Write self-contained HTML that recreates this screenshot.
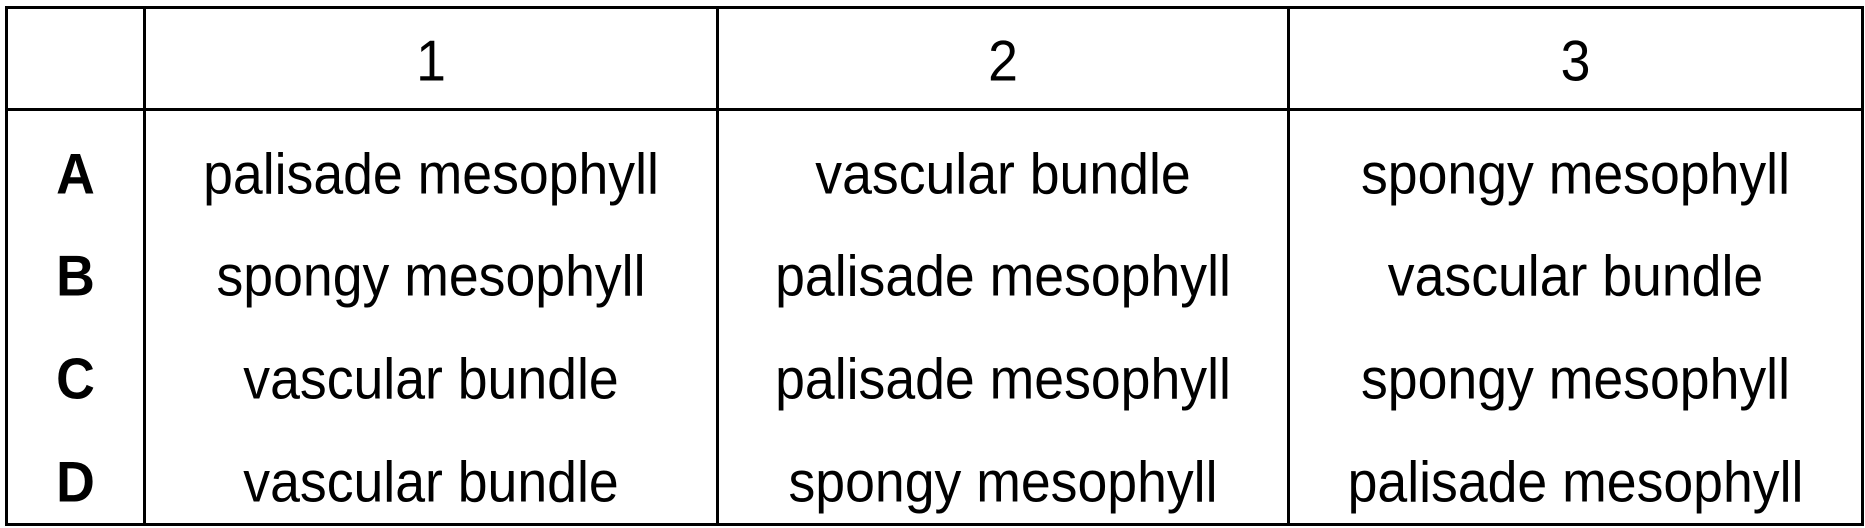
<!DOCTYPE html>
<html><head><meta charset="utf-8"><style>
html,body{margin:0;padding:0;background:#fff;}
body{width:1865px;height:528px;position:relative;overflow:hidden;font-family:"Liberation Sans",Arial,sans-serif;color:#000;}
.l{position:absolute;background:#000;}
.t{position:absolute;font-size:53.6px;line-height:60px;height:60px;text-align:center;white-space:nowrap;transform:scaleY(1.08);}
.b{font-weight:bold;}
</style></head><body>
<div class="l" style="left:5px;top:6px;width:1859px;height:3px"></div>
<div class="l" style="left:5px;top:523px;width:1859px;height:3px"></div>
<div class="l" style="left:5px;top:108px;width:1859px;height:3px"></div>
<div class="l" style="left:5px;top:6px;width:3px;height:520px"></div>
<div class="l" style="left:1861px;top:6px;width:3px;height:520px"></div>
<div class="l" style="left:143px;top:6px;width:3px;height:520px"></div>
<div class="l" style="left:716px;top:6px;width:3px;height:520px"></div>
<div class="l" style="left:1287px;top:6px;width:3px;height:520px"></div>

<div class="t" style="left:146px;width:570px;top:31px">1</div>
<div class="t" style="left:719px;width:568px;top:31px">2</div>
<div class="t" style="left:1290px;width:571px;top:31px">3</div>

<div class="t b" style="left:8px;width:135px;top:144px">A</div>
<div class="t b" style="left:8px;width:135px;top:246px">B</div>
<div class="t b" style="left:8px;width:135px;top:349px">C</div>
<div class="t b" style="left:8px;width:135px;top:452px">D</div>

<div class="t" style="left:146px;width:570px;top:144px">palisade mesophyll</div>
<div class="t" style="left:719px;width:568px;top:144px">vascular bundle</div>
<div class="t" style="left:1290px;width:571px;top:144px">spongy mesophyll</div>

<div class="t" style="left:146px;width:570px;top:246px">spongy mesophyll</div>
<div class="t" style="left:719px;width:568px;top:246px">palisade mesophyll</div>
<div class="t" style="left:1290px;width:571px;top:246px">vascular bundle</div>

<div class="t" style="left:146px;width:570px;top:349px">vascular bundle</div>
<div class="t" style="left:719px;width:568px;top:349px">palisade mesophyll</div>
<div class="t" style="left:1290px;width:571px;top:349px">spongy mesophyll</div>

<div class="t" style="left:146px;width:570px;top:452px">vascular bundle</div>
<div class="t" style="left:719px;width:568px;top:452px">spongy mesophyll</div>
<div class="t" style="left:1290px;width:571px;top:452px">palisade mesophyll</div>
</body></html>
